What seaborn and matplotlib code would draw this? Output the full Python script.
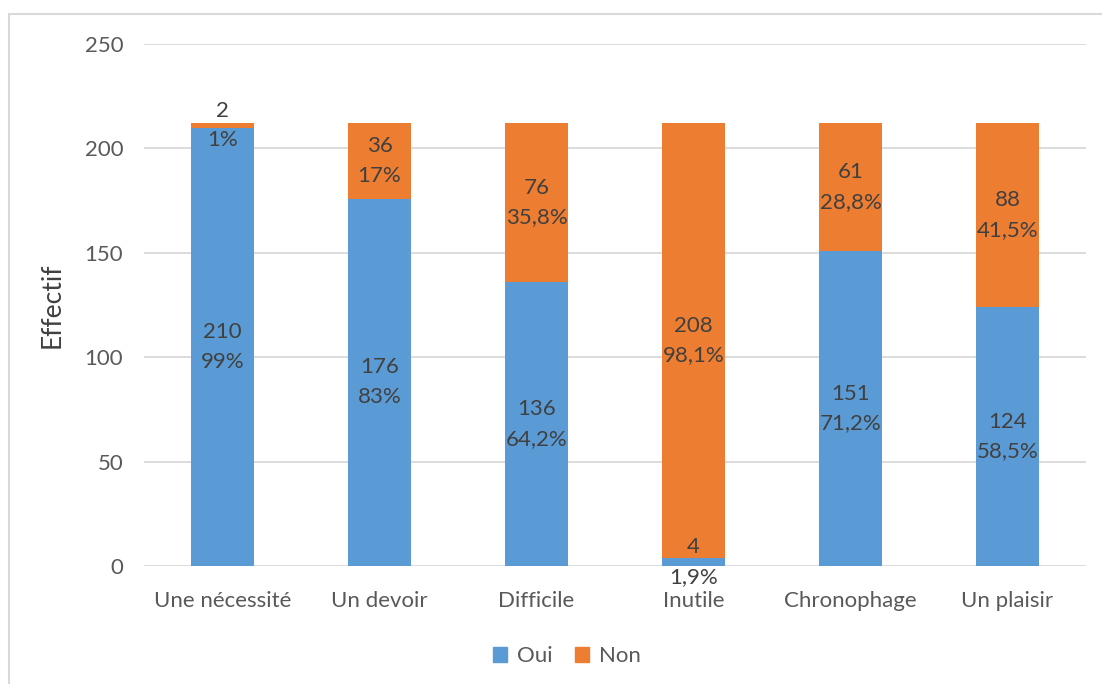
import matplotlib
matplotlib.use("Agg")
import matplotlib.pyplot as plt
from matplotlib.patches import Rectangle, Patch
import seaborn as sns
import pandas as pd

categories = ["Une nécessité", "Un devoir", "Difficile", "Inutile", "Chronophage", "Un plaisir"]
oui = [210, 176, 136, 4, 151, 124]
non = [2, 36, 76, 208, 61, 88]
oui_pct = ["99%", "83%", "64,2%", "1,9%", "71,2%", "58,5%"]
non_pct = ["1%", "17%", "35,8%", "98,1%", "28,8%", "41,5%"]
yticks = [0, 50, 100, 150, 200, 250]

BLUE = "#5B9BD5"
ORANGE = "#ED7D31"
GRID = "#D9D9D9"
TXT = "#595959"
LBL = "#404040"

sns.set_theme(style="white")
plt.rcParams["font.family"] = ["Lato", "DejaVu Sans"]

df = pd.DataFrame({"cat": categories, "oui": oui, "non": non})
df["total"] = df["oui"] + df["non"]

fig = plt.figure(figsize=(11.02, 6.84), dpi=100)
ax = fig.add_axes([144 / 1102, 1 - 566 / 684, (1086 - 144) / 1102, (566 - 44) / 684])

# stacked bars: full height in orange, "Oui" part over it in blue
sns.barplot(data=df, x="cat", y="total", color=ORANGE, saturation=1, width=0.4,
            ax=ax, linewidth=0, zorder=2)
sns.barplot(data=df, x="cat", y="oui", color=BLUE, saturation=1, width=0.4,
            ax=ax, linewidth=0, zorder=3)

ax.set_ylim(0, 250)
ax.set_xlim(-0.5, len(categories) - 0.5)
ax.set_yticks(yticks)
ax.yaxis.grid(True, color=GRID, linewidth=1.3, zorder=0)
ax.set_axisbelow(True)
for s in ax.spines.values():
    s.set_visible(False)
ax.tick_params(axis="both", length=0, labelsize=16, colors=TXT)
ax.tick_params(axis="y", pad=15)
ax.tick_params(axis="x", pad=18)
ax.set_xlabel("")
ax.set_ylabel("Effectif", fontsize=19, color=LBL, labelpad=14)

# data labels: value and share, centred in each segment
for i in range(len(categories)):
    ax.text(i, oui[i] / 2, f"{oui[i]}\n{oui_pct[i]}", ha="center", va="center",
            fontsize=16, color=LBL, linespacing=1.6, zorder=5)
    ax.text(i, oui[i] + non[i] / 2, f"{non[i]}\n{non_pct[i]}", ha="center", va="center",
            fontsize=16, color=LBL, linespacing=1.6, zorder=5)

handles = [Patch(color=BLUE, label="Oui"), Patch(color=ORANGE, label="Non")]
fig.legend(handles=handles, loc="center", bbox_to_anchor=(567 / 1102, 1 - 656 / 684),
           ncol=2, frameon=False, fontsize=16, handlelength=0.65, handleheight=0.65,
           handletextpad=0.45, columnspacing=1.0, labelcolor=TXT)

# chart frame
fig.patches.append(Rectangle((9 / 1102, -0.5), 1.5, 0.5 + (1 - 14 / 684), transform=fig.transFigure,
                             fill=False, edgecolor=GRID, linewidth=1.5, zorder=0))

fig.savefig("out.png", dpi=100, facecolor="white")
